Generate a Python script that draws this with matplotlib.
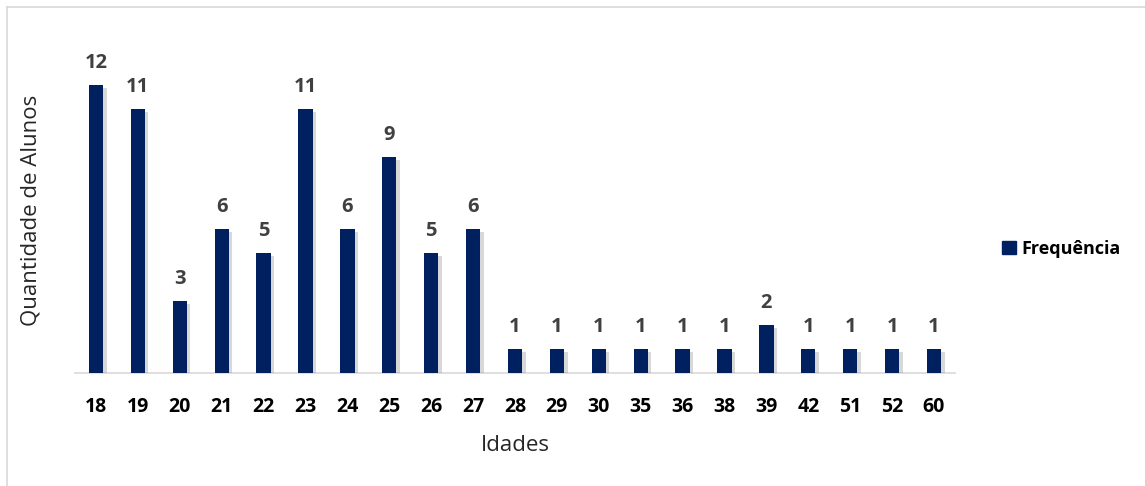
import matplotlib
matplotlib.use("Agg")
import matplotlib.pyplot as plt
from matplotlib import patheffects as pe
from matplotlib.lines import Line2D
from matplotlib.patches import Patch

idades = ["18", "19", "20", "21", "22", "23", "24", "25", "26", "27", "28",
          "29", "30", "35", "36", "38", "39", "42", "51", "52", "60"]
frequencia = [12, 11, 3, 6, 5, 11, 6, 9, 5, 6, 1, 1, 1, 1, 1, 1, 2, 1, 1, 1, 1]

W, H = 1145, 486
fig = plt.figure(figsize=(W / 100, H / 100), dpi=100)
fam = ["Open Sans", "DejaVu Sans"]

# outer frame (only top and left visible)
fig.add_artist(Line2D([7 / W, 7 / W], [0, 1 - 7 / H], transform=fig.transFigure, color="#d9d9d9", lw=1.2))
fig.add_artist(Line2D([7 / W, 1], [1 - 7 / H, 1 - 7 / H], transform=fig.transFigure, color="#d9d9d9", lw=1.2))

left, right, bottom, top = 75, 955, 373, 30
ax = fig.add_axes([left / W, 1 - bottom / H, (right - left) / W, (bottom - top) / H])
x = range(len(idades))
bars = ax.bar(x, frequencia, width=0.34, color="#002060", zorder=3,
              path_effects=[pe.SimplePatchShadow(offset=(2.5, -2), shadow_rgbFace="#808080", alpha=0.3), pe.Normal()])
ax.set_xlim(-0.5, len(idades) - 0.5)
ax.set_ylim(0, (bottom - top) / 24.0)
for xi, v in zip(x, frequencia):
    ax.annotate(str(v), (xi, v), xytext=(0, 9), textcoords="offset points", ha="center", va="bottom",
                fontsize=14.5, fontweight="bold", color="#404040", family=fam)
for s in ["top", "right", "left"]:
    ax.spines[s].set_visible(False)
ax.spines["bottom"].set_color("#d9d9d9")
ax.spines["bottom"].set_linewidth(1.2)
ax.set_yticks([])
ax.set_xticks(list(x))
ax.set_xticklabels(idades, fontsize=14, fontweight="bold", family=fam, color="black")
ax.tick_params(axis="x", length=0, pad=17)
ax.set_xlabel("Idades", fontsize=16, family=fam, color="#262626", labelpad=13)
fig.text(31 / W, 1 - 210 / H, "Quantidade de Alunos", rotation=90, ha="center", va="center",
         fontsize=16, family=fam, color="#262626")
ax.patch.set_alpha(0)

fig.legend(handles=[Patch(color="#002060", label="Frequência")], loc="center left",
           bbox_to_anchor=(986 / W, 1 - 249 / H), frameon=False, handlelength=0.75, handleheight=0.75,
           handletextpad=0.3, prop={"family": fam, "weight": "bold", "size": 13})

fig.savefig("out.png", dpi=100)
